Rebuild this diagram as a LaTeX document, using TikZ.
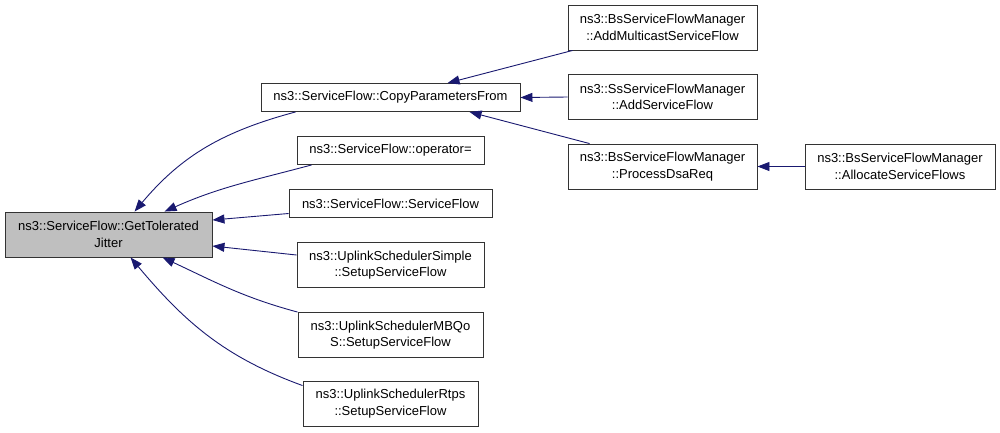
\documentclass[tikz,border=0pt]{standalone}
\usepackage{fontspec}
\setmainfont{Liberation Sans}
\usetikzlibrary{arrows.meta}

\begin{document}
\begin{tikzpicture}[x=1pt,y=-1pt,
    fn/.style={draw=black!80,line width=0.9pt,fill=white,align=center,inner sep=2pt,
        font=\fontsize{13}{16.5}\selectfont},
    oneline/.style={fn,minimum height=28pt},
    twoline/.style={fn,minimum height=45pt},
    edge/.style={draw=navyline,line width=0.9pt,{Triangle[length=12pt,width=9pt]}-}]

\definecolor{navyline}{HTML}{191970}
\definecolor{current}{HTML}{BFBFBF}

\useasboundingbox (0,0) rectangle (1000,432);

%%%% function and its callers
\node[twoline,fill=current,minimum width=207pt] (jitter) at (108.5,234.5) {ns3::ServiceFlow::GetTolerated\\Jitter};

\node[oneline,minimum width=259pt] (copy) at (390.5,97.5) {ns3::ServiceFlow::CopyParametersFrom};
\node[oneline,minimum width=187pt] (oper) at (390.5,150.5) {ns3::ServiceFlow::operator=};
\node[oneline,minimum width=203pt] (ctor) at (390.5,203.5) {ns3::ServiceFlow::ServiceFlow};
\node[twoline,minimum width=187pt] (simple) at (390.5,265) {ns3::UplinkSchedulerSimple\\::SetupServiceFlow};
\node[twoline,minimum width=185pt] (mbqos) at (390.5,335) {ns3::UplinkSchedulerMBQo\\S::SetupServiceFlow};
\node[twoline,minimum width=175pt] (rtps) at (390.5,403.5) {ns3::UplinkSchedulerRtps\\::SetupServiceFlow};

%%%% callers of CopyParametersFrom
\node[twoline,minimum width=189pt] (multi) at (662.5,27.5) {ns3::BsServiceFlowManager\\::AddMulticastServiceFlow};
\node[twoline,minimum width=189pt] (ssadd) at (662.5,97) {ns3::SsServiceFlowManager\\::AddServiceFlow};
\node[twoline,minimum width=189pt] (dsareq) at (662.5,166.5) {ns3::BsServiceFlowManager\\::ProcessDsaReq};
\node[twoline,minimum width=190pt] (alloc) at (900,166.5) {ns3::BsServiceFlowManager\\::AllocateServiceFlows};

%%%% edges into GetToleratedJitter
\draw[edge] ([xshift=130pt]jitter.north west) to[out=50,in=195] ([xshift=35pt]copy.south west);
\draw[edge] ([xshift=160pt]jitter.north west) to[out=24,in=195] ([xshift=15pt]oper.south west);
\draw[edge] ([yshift=14.5pt]jitter.east) -- ([yshift=-10pt]ctor.west);
\draw[edge] ([yshift=-11.5pt]jitter.east) -- ([yshift=10pt]simple.west);
\draw[edge] ([xshift=158pt]jitter.south west) to[out=-25,in=165] (mbqos.north west);
\draw[edge] ([xshift=126pt]jitter.south west) to[out=-50,in=160] ([yshift=-5pt]rtps.north west);

%%%% edges into CopyParametersFrom
\draw[edge] ([xshift=187pt]copy.north west) -- ([xshift=5pt]multi.south west);
\draw[edge] (copy.east) -- (ssadd.west);
\draw[edge] ([xshift=209pt]copy.south west) -- ([xshift=22pt]dsareq.north west);

%rest
\draw[edge] (dsareq.east) -- (alloc.west);

\end{tikzpicture}
\end{document}
